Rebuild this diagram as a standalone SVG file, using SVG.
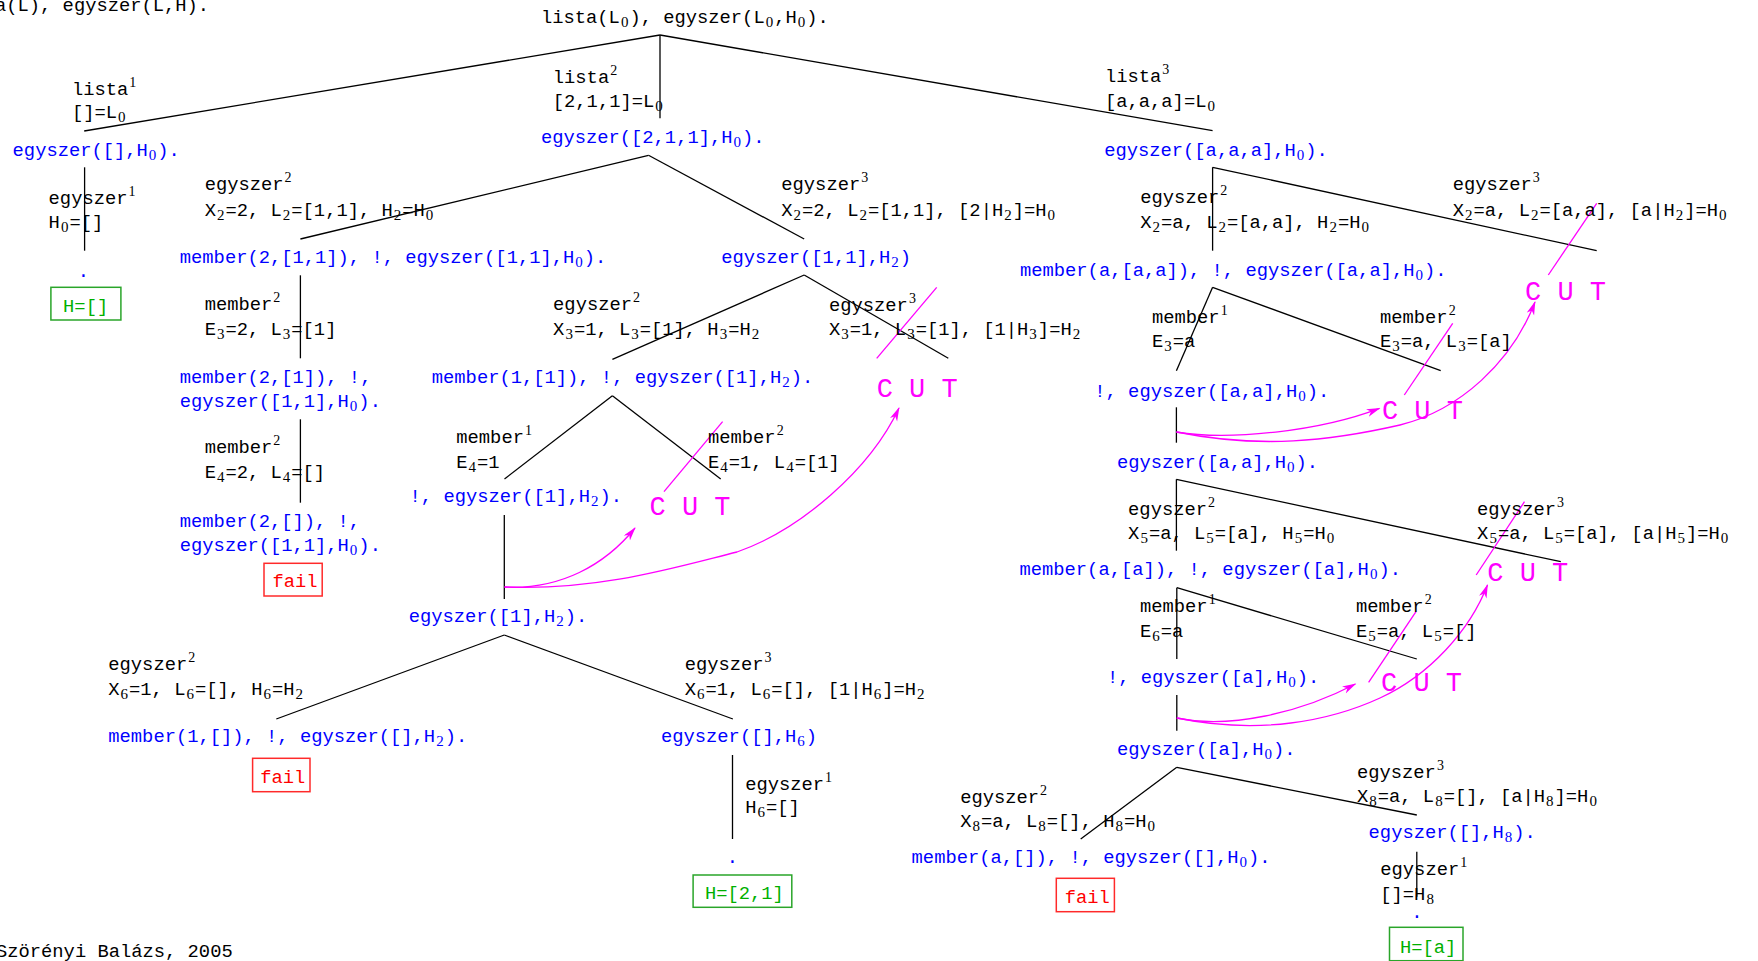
<svg xmlns="http://www.w3.org/2000/svg" width="1758" height="961" viewBox="0 0 1758 961">
<style>
text{font-family:"Liberation Mono","DejaVu Sans Mono",monospace;font-size:18.8px;fill:#000}
.g{fill:#0000ff}
.b{font-family:"Liberation Serif",serif;font-size:15px}
.p{font-family:"Liberation Serif",serif;font-size:14px}
.cut{font-size:27px;fill:#ff00ff}
.ok{fill:#00b000}
.okbox{fill:none;stroke:#2aa52a;stroke-width:1.5}
.fl{fill:#ff0000}
.flbox{fill:none;stroke:#ff2a2a;stroke-width:1.5}
.e{stroke:#000;stroke-width:1.3;fill:none}
.m{stroke:#ff00ff;stroke-width:1.3;fill:none}
.ma{marker-end:url(#ah)}
</style>
<defs>
<marker id="ah" markerUnits="userSpaceOnUse" markerWidth="16" markerHeight="10" refX="13" refY="4" orient="auto">
<path d="M0,0 L14,4 L0,8 L4,4 z" fill="#ff00ff"/>
</marker>
</defs>
<rect width="1758" height="961" fill="#fff"/>

<g id="connectors">
<line class="e" x1="660" y1="35" x2="84.2" y2="131"/>
<line class="e" x1="660" y1="35" x2="660" y2="118.3"/>
<line class="e" x1="660" y1="35" x2="1212.6" y2="130.7"/>
<line class="e" x1="84.6" y1="167.3" x2="84.6" y2="250.7"/>
<line class="e" x1="648.5" y1="155.3" x2="300.4" y2="239"/>
<line class="e" x1="648.5" y1="155.3" x2="804.2" y2="239"/>
<line class="e" x1="300.4" y1="275.3" x2="300.4" y2="358.3"/>
<line class="e" x1="300.4" y1="419.3" x2="300.4" y2="502.7"/>
<line class="e" x1="804.2" y1="275" x2="612.4" y2="359.3"/>
<line class="e" x1="804.2" y1="275" x2="948.3" y2="358.3"/>
<line class="e" x1="612.4" y1="395.7" x2="504.5" y2="479"/>
<line class="e" x1="612.4" y1="395.7" x2="720.7" y2="479"/>
<line class="e" x1="504.3" y1="515" x2="504.3" y2="599"/>
<line class="e" x1="504.3" y1="635" x2="276.3" y2="719"/>
<line class="e" x1="504.3" y1="635" x2="732.9" y2="719"/>
<line class="e" x1="732.5" y1="755" x2="732.5" y2="839"/>
<line class="e" x1="1212.6" y1="167.3" x2="1212.6" y2="250.7"/>
<line class="e" x1="1212.6" y1="167.3" x2="1596.7" y2="250.7"/>
<line class="e" x1="1212.6" y1="287.3" x2="1176.4" y2="370.7"/>
<line class="e" x1="1212.6" y1="287.3" x2="1440.7" y2="370.7"/>
<line class="e" x1="1176.4" y1="407.3" x2="1176.4" y2="442.7"/>
<line class="e" x1="1176.4" y1="479.3" x2="1176.4" y2="550.7"/>
<line class="e" x1="1176.4" y1="479.3" x2="1560.8" y2="561.7"/>
<line class="e" x1="1176.8" y1="587.7" x2="1176.8" y2="659"/>
<line class="e" x1="1176.8" y1="587.7" x2="1416.8" y2="659"/>
<line class="e" x1="1176.8" y1="695" x2="1176.8" y2="730.7"/>
<line class="e" x1="1176.8" y1="767.3" x2="1080.7" y2="839"/>
<line class="e" x1="1176.8" y1="767.3" x2="1416.8" y2="815"/>
<line class="e" x1="1416.8" y1="851.7" x2="1416.8" y2="896.7"/>
<line class="m" x1="722.6" y1="421.7" x2="664" y2="491.7"/>
<line class="m" x1="936.7" y1="287.3" x2="876.7" y2="358.3"/>
<line class="m" x1="1596.7" y1="203.3" x2="1548.3" y2="275"/>
<line class="m" x1="1452.7" y1="323.3" x2="1404.3" y2="395"/>
<line class="m" x1="1524.5" y1="501.7" x2="1476.2" y2="575"/>
<line class="m" x1="1416" y1="611.7" x2="1368.6" y2="682.3"/>
<path class="m ma" d="M504.5,587 C560,590 605,565 635,528"/>
<path class="m ma" d="M504.5,587 C600,591 680,566 737,552 C800,530 870,470 899,408"/>
<path class="m ma" d="M1176.4,432 C1230,441 1320,431 1379.5,408.3"/>
<path class="m ma" d="M1176.4,432 C1260,449 1330,441 1400,425 C1460,410 1512,362 1535,302"/>
<path class="m ma" d="M1176.8,718 C1230,729 1300,713 1355.4,684"/>
<path class="m ma" d="M1176.8,718 C1260,735 1330,721 1380,698 C1430,675 1470,630 1487.5,585"/>
</g>

<g id="header"><text x="-5" y="10.5">a(L), egyszer(L,H).</text></g>
<g id="root"><text x="541" y="22.7">lista(L<tspan class="b" dx="1" dy="4">0</tspan><tspan dx="1" dy="-4">), egyszer(L</tspan><tspan class="b" dx="1" dy="4">0</tspan><tspan dx="1" dy="-4">,H</tspan><tspan class="b" dx="1" dy="4">0</tspan><tspan dx="1" dy="-4">).</tspan></text></g>

<g id="lbl-lista1"><text x="72" y="95">lista<tspan class="p" dx="1" dy="-8">1</tspan></text><text x="72" y="118.3">[]=L<tspan class="b" dx="1" dy="4">0</tspan></text></g>
<g id="lbl-lista2"><text x="552.8" y="82.7">lista<tspan class="p" dx="1" dy="-8">2</tspan></text><text x="552.8" y="107.3">[2,1,1]=L<tspan class="b" dx="1" dy="4">0</tspan></text></g>
<g id="lbl-lista3"><text x="1105" y="81.7">lista<tspan class="p" dx="1" dy="-8">3</tspan></text><text x="1105" y="107.3">[a,a,a]=L<tspan class="b" dx="1" dy="4">0</tspan></text></g>

<g id="g1"><text class="g" x="12.6" y="156">egyszer([],H<tspan class="b" dx="1" dy="4">0</tspan><tspan dx="1" dy="-4">).</tspan></text></g>
<g id="g2"><text class="g" x="540.9" y="143.3">egyszer([2,1,1],H<tspan class="b" dx="1" dy="4">0</tspan><tspan dx="1" dy="-4">).</tspan></text></g>
<g id="g3"><text class="g" x="1104.2" y="156">egyszer([a,a,a],H<tspan class="b" dx="1" dy="4">0</tspan><tspan dx="1" dy="-4">).</tspan></text></g>

<g id="lbl-e1a"><text x="48.6" y="204">egyszer<tspan class="p" dx="1" dy="-8">1</tspan></text><text x="48.6" y="228.3">H<tspan class="b" dx="1" dy="4">0</tspan><tspan dx="1" dy="-4">=[]</tspan></text></g>
<g id="res1"><text class="g" x="83.4" y="277" text-anchor="middle">.</text><rect class="okbox" x="50.9" y="287.3" width="70" height="32.7"/><text class="ok" x="63.1" y="311.7">H=[]</text></g>

<g id="lbl-e2a"><text x="204.7" y="190">egyszer<tspan class="p" dx="1" dy="-8">2</tspan></text><text x="204.7" y="216">X<tspan class="b" dx="1" dy="4">2</tspan><tspan dx="1" dy="-4">=2, L</tspan><tspan class="b" dx="1" dy="4">2</tspan><tspan dx="1" dy="-4">=[1,1], H</tspan><tspan class="b" dx="1" dy="4">2</tspan><tspan dx="1" dy="-4">=H</tspan><tspan class="b" dx="1" dy="4">0</tspan></text></g>
<g id="g4"><text class="g" x="179.8" y="262.7">member(2,[1,1]), !, egyszer([1,1],H<tspan class="b" dx="1" dy="4">0</tspan><tspan dx="1" dy="-4">).</tspan></text></g>
<g id="lbl-m2a"><text x="204.7" y="310">member<tspan class="p" dx="1" dy="-8">2</tspan></text><text x="204.7" y="335">E<tspan class="b" dx="1" dy="4">3</tspan><tspan dx="1" dy="-4">=2, L</tspan><tspan class="b" dx="1" dy="4">3</tspan><tspan dx="1" dy="-4">=[1]</tspan></text></g>
<g id="g5"><text class="g" x="179.8" y="382.7">member(2,[1]), !,</text><text class="g" x="179.8" y="406.7">egyszer([1,1],H<tspan class="b" dx="1" dy="4">0</tspan><tspan dx="1" dy="-4">).</tspan></text></g>
<g id="lbl-m2b"><text x="204.7" y="453.3">member<tspan class="p" dx="1" dy="-8">2</tspan></text><text x="204.7" y="478.3">E<tspan class="b" dx="1" dy="4">4</tspan><tspan dx="1" dy="-4">=2, L</tspan><tspan class="b" dx="1" dy="4">4</tspan><tspan dx="1" dy="-4">=[]</tspan></text></g>
<g id="g6"><text class="g" x="179.8" y="526.7">member(2,[]), !,</text><text class="g" x="179.8" y="550.7">egyszer([1,1],H<tspan class="b" dx="1" dy="4">0</tspan><tspan dx="1" dy="-4">).</tspan></text></g>
<g id="fail1"><rect class="flbox" x="264" y="563.3" width="58.2" height="32.7"/><text class="fl" x="272.4" y="587.3">fail</text></g>

<g id="lbl-e3a"><text x="781.3" y="190">egyszer<tspan class="p" dx="1" dy="-8">3</tspan></text><text x="781.3" y="216">X<tspan class="b" dx="1" dy="4">2</tspan><tspan dx="1" dy="-4">=2, L</tspan><tspan class="b" dx="1" dy="4">2</tspan><tspan dx="1" dy="-4">=[1,1], [2|H</tspan><tspan class="b" dx="1" dy="4">2</tspan><tspan dx="1" dy="-4">]=H</tspan><tspan class="b" dx="1" dy="4">0</tspan></text></g>
<g id="g7"><text class="g" x="721.2" y="263.3">egyszer([1,1],H<tspan class="b" dx="1" dy="4">2</tspan><tspan dx="1" dy="-4">)</tspan></text></g>
<g id="lbl-e2b"><text x="553.1" y="310">egyszer<tspan class="p" dx="1" dy="-8">2</tspan></text><text x="553.1" y="335">X<tspan class="b" dx="1" dy="4">3</tspan><tspan dx="1" dy="-4">=1, L</tspan><tspan class="b" dx="1" dy="4">3</tspan><tspan dx="1" dy="-4">=[1], H</tspan><tspan class="b" dx="1" dy="4">3</tspan><tspan dx="1" dy="-4">=H</tspan><tspan class="b" dx="1" dy="4">2</tspan></text></g>
<g id="lbl-e3b"><text x="829" y="310.7">egyszer<tspan class="p" dx="1" dy="-8">3</tspan></text><text x="829" y="335">X<tspan class="b" dx="1" dy="4">3</tspan><tspan dx="1" dy="-4">=1, L</tspan><tspan class="b" dx="1" dy="4">3</tspan><tspan dx="1" dy="-4">=[1], [1|H</tspan><tspan class="b" dx="1" dy="4">3</tspan><tspan dx="1" dy="-4">]=H</tspan><tspan class="b" dx="1" dy="4">2</tspan></text></g>
<g id="cut1"><text class="cut" x="876.7" y="396.7">C U T</text></g>
<g id="g8"><text class="g" x="431.8" y="383.3">member(1,[1]), !, egyszer([1],H<tspan class="b" dx="1" dy="4">2</tspan><tspan dx="1" dy="-4">).</tspan></text></g>
<g id="lbl-m1a"><text x="456.3" y="443.3">member<tspan class="p" dx="1" dy="-8">1</tspan></text><text x="456.3" y="468.3">E<tspan class="b" dx="1" dy="4">4</tspan><tspan dx="1" dy="-4">=1</tspan></text></g>
<g id="lbl-m2c"><text x="708" y="443.3">member<tspan class="p" dx="1" dy="-8">2</tspan></text><text x="708" y="468.3">E<tspan class="b" dx="1" dy="4">4</tspan><tspan dx="1" dy="-4">=1, L</tspan><tspan class="b" dx="1" dy="4">4</tspan><tspan dx="1" dy="-4">=[1]</tspan></text></g>
<g id="cut2"><text class="cut" x="649.5" y="515">C U T</text></g>
<g id="g9"><text class="g" x="409.6" y="501.7">!, egyszer([1],H<tspan class="b" dx="1" dy="4">2</tspan><tspan dx="1" dy="-4">).</tspan></text></g>
<g id="g10"><text class="g" x="408.7" y="621.7">egyszer([1],H<tspan class="b" dx="1" dy="4">2</tspan><tspan dx="1" dy="-4">).</tspan></text></g>
<g id="lbl-e2c"><text x="108.3" y="670">egyszer<tspan class="p" dx="1" dy="-8">2</tspan></text><text x="108.3" y="695">X<tspan class="b" dx="1" dy="4">6</tspan><tspan dx="1" dy="-4">=1, L</tspan><tspan class="b" dx="1" dy="4">6</tspan><tspan dx="1" dy="-4">=[], H</tspan><tspan class="b" dx="1" dy="4">6</tspan><tspan dx="1" dy="-4">=H</tspan><tspan class="b" dx="1" dy="4">2</tspan></text></g>
<g id="g11"><text class="g" x="108.3" y="741.7">member(1,[]), !, egyszer([],H<tspan class="b" dx="1" dy="4">2</tspan><tspan dx="1" dy="-4">).</tspan></text></g>
<g id="fail2"><rect class="flbox" x="252.6" y="758.3" width="57.4" height="33.4"/><text class="fl" x="260.2" y="783.3">fail</text></g>
<g id="lbl-e3c"><text x="684.7" y="670">egyszer<tspan class="p" dx="1" dy="-8">3</tspan></text><text x="684.7" y="695">X<tspan class="b" dx="1" dy="4">6</tspan><tspan dx="1" dy="-4">=1, L</tspan><tspan class="b" dx="1" dy="4">6</tspan><tspan dx="1" dy="-4">=[], [1|H</tspan><tspan class="b" dx="1" dy="4">6</tspan><tspan dx="1" dy="-4">]=H</tspan><tspan class="b" dx="1" dy="4">2</tspan></text></g>
<g id="g12"><text class="g" x="661" y="741.7">egyszer([],H<tspan class="b" dx="1" dy="4">6</tspan><tspan dx="1" dy="-4">)</tspan></text></g>
<g id="lbl-e1b"><text x="745.2" y="790">egyszer<tspan class="p" dx="1" dy="-8">1</tspan></text><text x="745.2" y="813.3">H<tspan class="b" dx="1" dy="4">6</tspan><tspan dx="1" dy="-4">=[]</tspan></text></g>
<g id="res2"><text class="g" x="732.5" y="863" text-anchor="middle">.</text><rect class="okbox" x="693.1" y="875" width="98.7" height="32.3"/><text class="ok" x="705" y="899.3">H=[2,1]</text></g>

<g id="lbl-e2d"><text x="1140.3" y="203.3">egyszer<tspan class="p" dx="1" dy="-8">2</tspan></text><text x="1140.3" y="228.3">X<tspan class="b" dx="1" dy="4">2</tspan><tspan dx="1" dy="-4">=a, L</tspan><tspan class="b" dx="1" dy="4">2</tspan><tspan dx="1" dy="-4">=[a,a], H</tspan><tspan class="b" dx="1" dy="4">2</tspan><tspan dx="1" dy="-4">=H</tspan><tspan class="b" dx="1" dy="4">0</tspan></text></g>
<g id="lbl-e3d"><text x="1452.8" y="190">egyszer<tspan class="p" dx="1" dy="-8">3</tspan></text><text x="1452.8" y="216">X<tspan class="b" dx="1" dy="4">2</tspan><tspan dx="1" dy="-4">=a, L</tspan><tspan class="b" dx="1" dy="4">2</tspan><tspan dx="1" dy="-4">=[a,a], [a|H</tspan><tspan class="b" dx="1" dy="4">2</tspan><tspan dx="1" dy="-4">]=H</tspan><tspan class="b" dx="1" dy="4">0</tspan></text></g>
<g id="cut3"><text class="cut" x="1525" y="300">C U T</text></g>
<g id="g13"><text class="g" x="1020" y="276">member(a,[a,a]), !, egyszer([a,a],H<tspan class="b" dx="1" dy="4">0</tspan><tspan dx="1" dy="-4">).</tspan></text></g>
<g id="lbl-m1b"><text x="1152" y="323.3">member<tspan class="p" dx="1" dy="-8">1</tspan></text><text x="1152" y="346.7">E<tspan class="b" dx="1" dy="4">3</tspan><tspan dx="1" dy="-4">=a</tspan></text></g>
<g id="lbl-m2d"><text x="1380" y="323.3">member<tspan class="p" dx="1" dy="-8">2</tspan></text><text x="1380" y="346.7">E<tspan class="b" dx="1" dy="4">3</tspan><tspan dx="1" dy="-4">=a, L</tspan><tspan class="b" dx="1" dy="4">3</tspan><tspan dx="1" dy="-4">=[a]</tspan></text></g>
<g id="cut4"><text class="cut" x="1381.9" y="419.3">C U T</text></g>
<g id="g14"><text class="g" x="1094.3" y="396.7">!, egyszer([a,a],H<tspan class="b" dx="1" dy="4">0</tspan><tspan dx="1" dy="-4">).</tspan></text></g>
<g id="g15"><text class="g" x="1117" y="468.3">egyszer([a,a],H<tspan class="b" dx="1" dy="4">0</tspan><tspan dx="1" dy="-4">).</tspan></text></g>
<g id="lbl-e2e"><text x="1128.1" y="515">egyszer<tspan class="p" dx="1" dy="-8">2</tspan></text><text x="1128.1" y="539.3">X<tspan class="b" dx="1" dy="4">5</tspan><tspan dx="1" dy="-4">=a, L</tspan><tspan class="b" dx="1" dy="4">5</tspan><tspan dx="1" dy="-4">=[a], H</tspan><tspan class="b" dx="1" dy="4">5</tspan><tspan dx="1" dy="-4">=H</tspan><tspan class="b" dx="1" dy="4">0</tspan></text></g>
<g id="lbl-e3e"><text x="1477.1" y="515">egyszer<tspan class="p" dx="1" dy="-8">3</tspan></text><text x="1477.1" y="539.3">X<tspan class="b" dx="1" dy="4">5</tspan><tspan dx="1" dy="-4">=a, L</tspan><tspan class="b" dx="1" dy="4">5</tspan><tspan dx="1" dy="-4">=[a], [a|H</tspan><tspan class="b" dx="1" dy="4">5</tspan><tspan dx="1" dy="-4">]=H</tspan><tspan class="b" dx="1" dy="4">0</tspan></text></g>
<g id="cut5"><text class="cut" x="1487.3" y="581">C U T</text></g>
<g id="g16"><text class="g" x="1019.5" y="575">member(a,[a]), !, egyszer([a],H<tspan class="b" dx="1" dy="4">0</tspan><tspan dx="1" dy="-4">).</tspan></text></g>
<g id="lbl-m1c"><text x="1140" y="611.7">member<tspan class="p" dx="1" dy="-8">1</tspan></text><text x="1140" y="636.7">E<tspan class="b" dx="1" dy="4">6</tspan><tspan dx="1" dy="-4">=a</tspan></text></g>
<g id="lbl-m2e"><text x="1356" y="611.7">member<tspan class="p" dx="1" dy="-8">2</tspan></text><text x="1356" y="636.7">E<tspan class="b" dx="1" dy="4">5</tspan><tspan dx="1" dy="-4">=a, L</tspan><tspan class="b" dx="1" dy="4">5</tspan><tspan dx="1" dy="-4">=[]</tspan></text></g>
<g id="cut6"><text class="cut" x="1381" y="691">C U T</text></g>
<g id="g17"><text class="g" x="1107" y="683.3">!, egyszer([a],H<tspan class="b" dx="1" dy="4">0</tspan><tspan dx="1" dy="-4">).</tspan></text></g>
<g id="g18"><text class="g" x="1117" y="755">egyszer([a],H<tspan class="b" dx="1" dy="4">0</tspan><tspan dx="1" dy="-4">).</tspan></text></g>
<g id="lbl-e2f"><text x="960.2" y="803.3">egyszer<tspan class="p" dx="1" dy="-8">2</tspan></text><text x="960.2" y="826.7">X<tspan class="b" dx="1" dy="4">8</tspan><tspan dx="1" dy="-4">=a, L</tspan><tspan class="b" dx="1" dy="4">8</tspan><tspan dx="1" dy="-4">=[], H</tspan><tspan class="b" dx="1" dy="4">8</tspan><tspan dx="1" dy="-4">=H</tspan><tspan class="b" dx="1" dy="4">0</tspan></text></g>
<g id="g19"><text class="g" x="911.6" y="863.3">member(a,[]), !, egyszer([],H<tspan class="b" dx="1" dy="4">0</tspan><tspan dx="1" dy="-4">).</tspan></text></g>
<g id="fail3"><rect class="flbox" x="1056.3" y="878.3" width="58.1" height="33.4"/><text class="fl" x="1064.7" y="903.3">fail</text></g>
<g id="lbl-e3f"><text x="1357" y="778.3">egyszer<tspan class="p" dx="1" dy="-8">3</tspan></text><text x="1357" y="801.7">X<tspan class="b" dx="1" dy="4">8</tspan><tspan dx="1" dy="-4">=a, L</tspan><tspan class="b" dx="1" dy="4">8</tspan><tspan dx="1" dy="-4">=[], [a|H</tspan><tspan class="b" dx="1" dy="4">8</tspan><tspan dx="1" dy="-4">]=H</tspan><tspan class="b" dx="1" dy="4">0</tspan></text></g>
<g id="g20"><text class="g" x="1368.6" y="838.3">egyszer([],H<tspan class="b" dx="1" dy="4">8</tspan><tspan dx="1" dy="-4">).</tspan></text></g>
<g id="lbl-e1c"><text x="1380.3" y="875">egyszer<tspan class="p" dx="1" dy="-8">1</tspan></text><text x="1380.3" y="900">[]=H<tspan class="b" dx="1" dy="4">8</tspan></text></g>
<g id="res3"><text class="g" x="1416.8" y="918" text-anchor="middle">.</text><rect class="okbox" x="1389.5" y="927.3" width="73.5" height="33.4"/><text class="ok" x="1400" y="953.3">H=[a]</text></g>

<g id="footer"><text x="-4" y="956.7">Szörényi Balázs, 2005</text></g>
</svg>
